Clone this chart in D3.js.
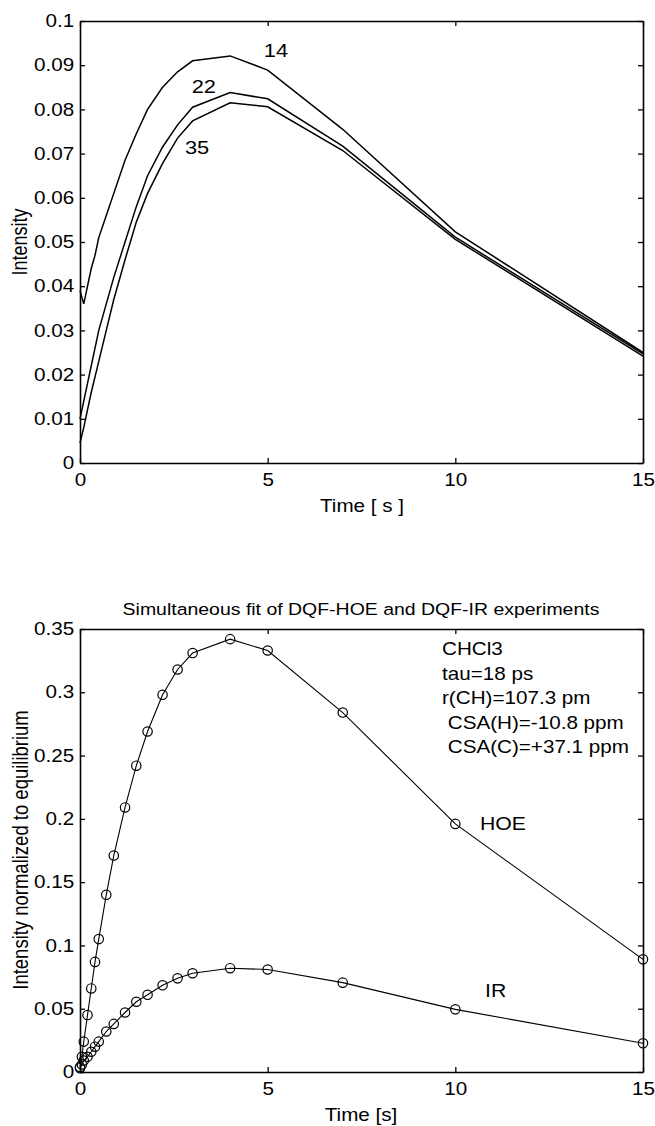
<!DOCTYPE html>
<html>
<head>
<meta charset="utf-8">
<script src="https://cdn.jsdelivr.net/npm/d3@7"></script>
<style>
  body { margin: 0; background: #fff; }
  svg { display: block; }
  text { font-family: "Liberation Sans", Arial, Helvetica, sans-serif; fill: #000; }
</style>
</head>
<body>
<div id="chart"></div>
<script>
// ---- top panel: simulated intensity for three correlation times ----
var topTime = [0, 0.1, 0.2, 0.3, 0.4, 0.5, 0.7, 0.9, 1.2, 1.5, 1.8, 2.2, 2.6, 3, 4, 5, 7, 10, 15]
var curve14 = [0.039, 0.036, 0.040, 0.044, 0.047, 0.051, 0.056, 0.061, 0.0685, 0.0745, 0.080, 0.085, 0.0885, 0.091, 0.0921, 0.0889, 0.0755, 0.0523, 0.0250]
var curve22 = [0.010, 0.014, 0.018, 0.022, 0.026, 0.030, 0.036, 0.042, 0.050, 0.058, 0.065, 0.0715, 0.0765, 0.0805, 0.0838, 0.0824, 0.0717, 0.0511, 0.0247]
var curve35 = [0.0045, 0.008, 0.012, 0.016, 0.0195, 0.023, 0.030, 0.037, 0.046, 0.0545, 0.061, 0.0678, 0.0735, 0.0774, 0.0815, 0.0806, 0.0707, 0.0506, 0.0242]
var topLabels = ["14", "22", "35"]
var topYTicks = [0, 0.01, 0.02, 0.03, 0.04, 0.05, 0.06, 0.07, 0.08, 0.09, 0.1]

// ---- bottom panel: fitted DQF-HOE / DQF-IR curves ----
var botTime = [0, 0.05, 0.1, 0.2, 0.3, 0.4, 0.5, 0.7, 0.9, 1.2, 1.5, 1.8, 2.2, 2.6, 3, 4, 5, 7, 10, 15]
var hoe = [0.004, 0.012, 0.024, 0.045, 0.066, 0.087, 0.105, 0.140, 0.171, 0.209, 0.242, 0.269, 0.298, 0.318, 0.331, 0.342, 0.333, 0.284, 0.196, 0.089]
var ir = [0.003, 0.006, 0.009, 0.012, 0.016, 0.020, 0.024, 0.032, 0.038, 0.047, 0.0555, 0.061, 0.0685, 0.074, 0.078, 0.082, 0.081, 0.0706, 0.0495, 0.0227]
var botYTicks = [0, 0.05, 0.1, 0.15, 0.2, 0.25, 0.3, 0.35]
var xTicks = [0, 5, 10, 15]
var infoLines = ["CHCl3", "tau=18 ps", "r(CH)=107.3 pm", " CSA(H)=-10.8 ppm", " CSA(C)=+37.1 ppm"]

var W = 655, H = 1126
var stretch = 'scale(1.18,1)'   // the scan's lettering is wide, stretch it a bit
var svg = d3.select('#chart').append('svg').attr('width', W).attr('height', H)

function panel(box, yMax, yTicks){
  var x = d3.scaleLinear().domain([0, 15]).range([box.left, box.right])
  var y = d3.scaleLinear().domain([0, yMax]).range([box.bottom, box.top])
  var fmt = d3.format('~g')

  var gl = svg.append('g').attr('transform', 'translate(' + box.left + ',0)')
    .call(d3.axisLeft(y).tickValues(yTicks).tickSize(-5).tickSizeOuter(0).tickPadding(5).tickFormat(fmt))
  var gb = svg.append('g').attr('transform', 'translate(0,' + box.bottom + ')')
    .call(d3.axisBottom(x).tickValues(xTicks).tickSize(-5).tickSizeOuter(0).tickPadding(11).tickFormat(fmt))
  var gr = svg.append('g').attr('transform', 'translate(' + box.right + ',0)')
    .call(d3.axisRight(y).tickValues(yTicks).tickSize(-5).tickSizeOuter(0).tickFormat(''))
  var gt = svg.append('g').attr('transform', 'translate(0,' + box.top + ')')
    .call(d3.axisTop(x).tickValues(xTicks).tickSize(-5).tickSizeOuter(0).tickFormat(''))

  ;[gl, gb, gr, gt].forEach(function(g){
    g.select('.domain').attr('stroke', '#000').attr('stroke-width', 1.6)
    g.selectAll('.tick line').attr('stroke', '#000').attr('stroke-width', 1.3)
    g.selectAll('text').style('font-size', '17.5px')
      .style('font-family', '"Liberation Sans", Arial, sans-serif')
      .attr('fill', '#000').attr('transform', stretch)
  })
  return {x: x, y: y}
}

function label(txt, px, py, size, anchor, rot){
  var t = 'translate(' + px + ',' + py + ') ' + stretch + (rot ? ' rotate(' + rot + ')' : '')
  svg.append('text').attr('transform', t)
    .attr('text-anchor', anchor || 'start')
    .style('font-size', size + 'px')
    .style('white-space', 'pre')
    .text(txt)
}

// top panel
var p1 = panel({left: 80, right: 643, top: 21, bottom: 463}, 0.1, topYTicks)
var line1 = d3.line().x(function(d){ return p1.x(d[0]) }).y(function(d){ return p1.y(d[1]) })
;[curve14, curve22, curve35].forEach(function(c){
  svg.append('path')
    .datum(topTime.map(function(t, i){ return [t, c[i]] }))
    .attr('d', line1).attr('fill', 'none').attr('stroke', '#000').attr('stroke-width', 1.5)
})
label(topLabels[0], p1.x(5.22), p1.y(0.0919), 18.5, 'middle')
label(topLabels[1], p1.x(3.3), p1.y(0.0838), 18.5, 'middle')
label(topLabels[2], p1.x(3.12), p1.y(0.0699), 18.5, 'middle')
label('Time [ s ]', 362, 512, 17.5, 'middle')
label('Intensity', 27, 242, 18, 'middle', -90)

// bottom panel
var p2 = panel({left: 80, right: 643, top: 629, bottom: 1072}, 0.35, botYTicks)
var line2 = d3.line().x(function(d){ return p2.x(d[0]) }).y(function(d){ return p2.y(d[1]) })
;[hoe, ir].forEach(function(c){
  var pts = botTime.map(function(t, i){ return [t, c[i]] })
  svg.append('path').datum(pts)
    .attr('d', line2).attr('fill', 'none').attr('stroke', '#000').attr('stroke-width', 1.1)
  svg.append('g').selectAll('circle').data(pts).enter().append('circle')
    .attr('cx', function(d){ return p2.x(d[0]) })
    .attr('cy', function(d){ return p2.y(d[1]) })
    .attr('r', 4.7)
    .attr('fill', 'none').attr('stroke', '#000').attr('stroke-width', 1.2)
})
label('Simultaneous fit of DQF-HOE and DQF-IR experiments', 361, 615, 16.5, 'middle')
infoLines.forEach(function(s, i){
  label(s, 442, 655 + i * 24.5, 17.5, 'start')
})
label('HOE', 480, 830, 18, 'start')
label('IR', 485, 997, 18, 'start')
label('Time [s]', 361, 1121, 17.5, 'middle')
label('Intensity normalized to equilibrium', 28, 850, 18.5, 'middle', -90)
</script>
</body>
</html>
